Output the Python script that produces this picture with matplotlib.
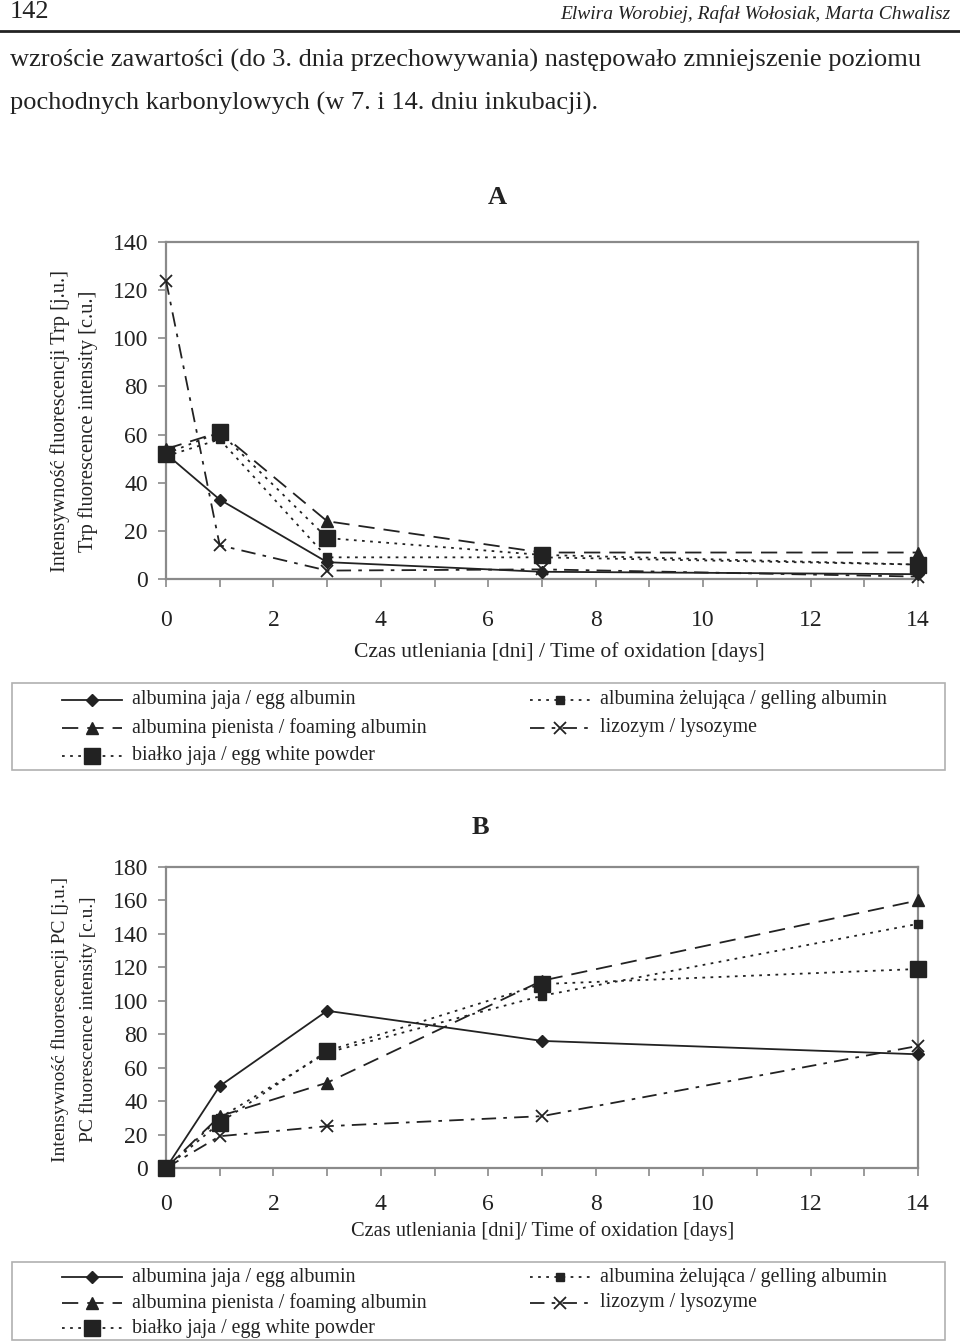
import matplotlib
matplotlib.use("Agg")
import matplotlib.pyplot as plt
from matplotlib.lines import Line2D
from matplotlib.patches import Rectangle

plt.rcParams["font.family"] = ["Liberation Serif", "DejaVu Serif"]

W, H = 960, 1341
INK = "#222222"
FRAME = "#8a8a8a"

# days of oxidation
days = [0, 1, 3, 7, 14]

# panel A: Trp fluorescence
egg_albumin_a = [52, 33, 7, 3, 2]
foaming_a = [54, 61, 24, 11, 11]
powder_a = [52, 61, 17, 10, 6]
gelling_a = [51, 58, 9, 9, 6]
lysozyme_a = [124, 14, 3.5, 4, 1]

# panel B: PC fluorescence
egg_albumin_b = [0, 49, 94, 76, 68]
foaming_b = [0, 31, 51, 112, 160]
powder_b = [0, 27, 70, 110, 119]
gelling_b = [0, 30, 69, 103, 146]
lysozyme_b = [0, 19, 25, 31, 73]

labels = [
    "albumina jaja / egg albumin",
    "albumina pienista / foaming albumin",
    "białko jaja / egg white powder",
    "albumina żelująca / gelling albumin",
    "lizozym / lysozyme",
]

STYLES = [
    dict(linestyle="-", marker="D", markersize=6),
    dict(linestyle=(0, (9, 5)), marker="^", markersize=8),
    dict(linestyle=(0, (1.5, 3)), marker="s", markersize=11),
    dict(linestyle=(0, (1.5, 3)), marker="s", markersize=6),
    dict(linestyle=(0, (8, 4, 2, 4)), marker="x", markersize=9, markeredgewidth=1.3),
]


def fx(x):
    return x / W


def fy(y):
    return 1 - y / H


def style_axes(ax, ymax, ystep):
    ax.set_xlim(0, 14)
    ax.set_ylim(0, ymax)
    ax.set_xticks(range(0, 15, 2))
    ax.set_xticks(range(0, 15), minor=True)
    ax.set_yticks(range(0, ymax + 1, ystep))
    for s in ax.spines.values():
        s.set_color(FRAME)
        s.set_linewidth(1.6)
    ax.tick_params(axis="both", which="both", direction="out", color=FRAME,
                   width=1.2, labelcolor=INK, labelsize=17)
    ax.tick_params(axis="x", which="both", length=6, pad=16)
    ax.tick_params(axis="y", length=6, pad=7)


def draw_series(ax, series):
    for vals, st in zip(series, STYLES):
        ax.plot(days, vals, color=INK, linewidth=1.3, markerfacecolor=INK,
                markeredgecolor=INK, clip_on=False, zorder=3, **st)


def draw_legend(fig, top, row_h, bottom):
    fig.add_artist(Rectangle((fx(12), fy(bottom)), fx(945 - 12), fy(top) - fy(bottom),
                             transform=fig.transFigure, fill=False,
                             edgecolor="#b0b0b0", linewidth=1.2))
    slots = [(62, 0), (62, 1), (62, 2), (530, 0), (530, 1)]
    for (x0, row), st, lab in zip(slots, STYLES, labels):
        y = top + row_h * (row + 0.6)
        fig.add_artist(Line2D([fx(x0), fx(x0 + 60)], [fy(y), fy(y)],
                              transform=fig.transFigure, color=INK, linewidth=1.3,
                              linestyle=st["linestyle"]))
        mst = {k: v for k, v in st.items() if k != "linestyle"}
        fig.add_artist(Line2D([fx(x0 + 30)], [fy(y)], transform=fig.transFigure,
                              color=INK, markerfacecolor=INK, markeredgecolor=INK,
                              linestyle="none", **mst))
        fig.text(fx(x0 + 70), fy(y), lab, fontsize=14.4, color=INK, va="center")


fig = plt.figure(figsize=(W / 100, H / 100), dpi=100)

# page header
fig.text(fx(10), fy(12), "142", fontsize=19, color=INK, va="center")
fig.text(fx(950), fy(14), "Elwira Worobiej, Rafał Wołosiak, Marta Chwalisz",
         fontsize=14, style="italic", color=INK, va="center", ha="right")
fig.add_artist(Line2D([0, 1], [fy(31), fy(31)], transform=fig.transFigure,
                      color=INK, linewidth=2))
fig.text(fx(10), fy(60), "wzroście zawartości (do 3. dnia przechowywania) "
         "następowało zmniejszenie poziomu", fontsize=19, color=INK, va="center")
fig.text(fx(10), fy(103), "pochodnych karbonylowych (w 7. i 14. dniu inkubacji).",
         fontsize=19, color=INK, va="center")

# panel A
ax_a = fig.add_axes([fx(166), fy(579), fx(918 - 166), fy(242) - fy(579)])
style_axes(ax_a, 140, 20)
draw_series(ax_a, [egg_albumin_a, foaming_a, powder_a, gelling_a, lysozyme_a])
fig.text(fx(497), fy(198), "A", fontsize=19, fontweight="bold", color=INK,
         ha="center", va="center")
fig.text(fx(559), fy(652), "Czas utleniania [dni] / Time of oxidation [days]",
         fontsize=15.6, color=INK, ha="center", va="center")
fig.text(fx(60), fy(421), "Intensywność fluorescencji Trp [j.u.]", fontsize=14.8,
         color=INK, rotation=90, ha="center", va="center")
fig.text(fx(88), fy(421), "Trp fluorescence intensity [c.u.]", fontsize=14.8,
         color=INK, rotation=90, ha="center", va="center")
draw_legend(fig, 683, 28, 770)

# panel B
ax_b = fig.add_axes([fx(166), fy(1168), fx(918 - 166), fy(867) - fy(1168)])
style_axes(ax_b, 180, 20)
ax_b.tick_params(axis="x", which="both", pad=13)
draw_series(ax_b, [egg_albumin_b, foaming_b, powder_b, gelling_b, lysozyme_b])
fig.text(fx(480), fy(827), "B", fontsize=19, fontweight="bold", color=INK,
         ha="center", va="center")
fig.text(fx(543), fy(1231), "Czas utleniania [dni]/ Time of oxidation [days]",
         fontsize=14.7, color=INK, ha="center", va="center")
fig.text(fx(60), fy(1019), "Intensywność fluorescencji PC [j.u.]", fontsize=14,
         color=INK, rotation=90, ha="center", va="center")
fig.text(fx(88), fy(1019), "PC fluorescence intensity [c.u.]", fontsize=14,
         color=INK, rotation=90, ha="center", va="center")
draw_legend(fig, 1262, 25.5, 1340)

fig.savefig("out.png", dpi=100)
